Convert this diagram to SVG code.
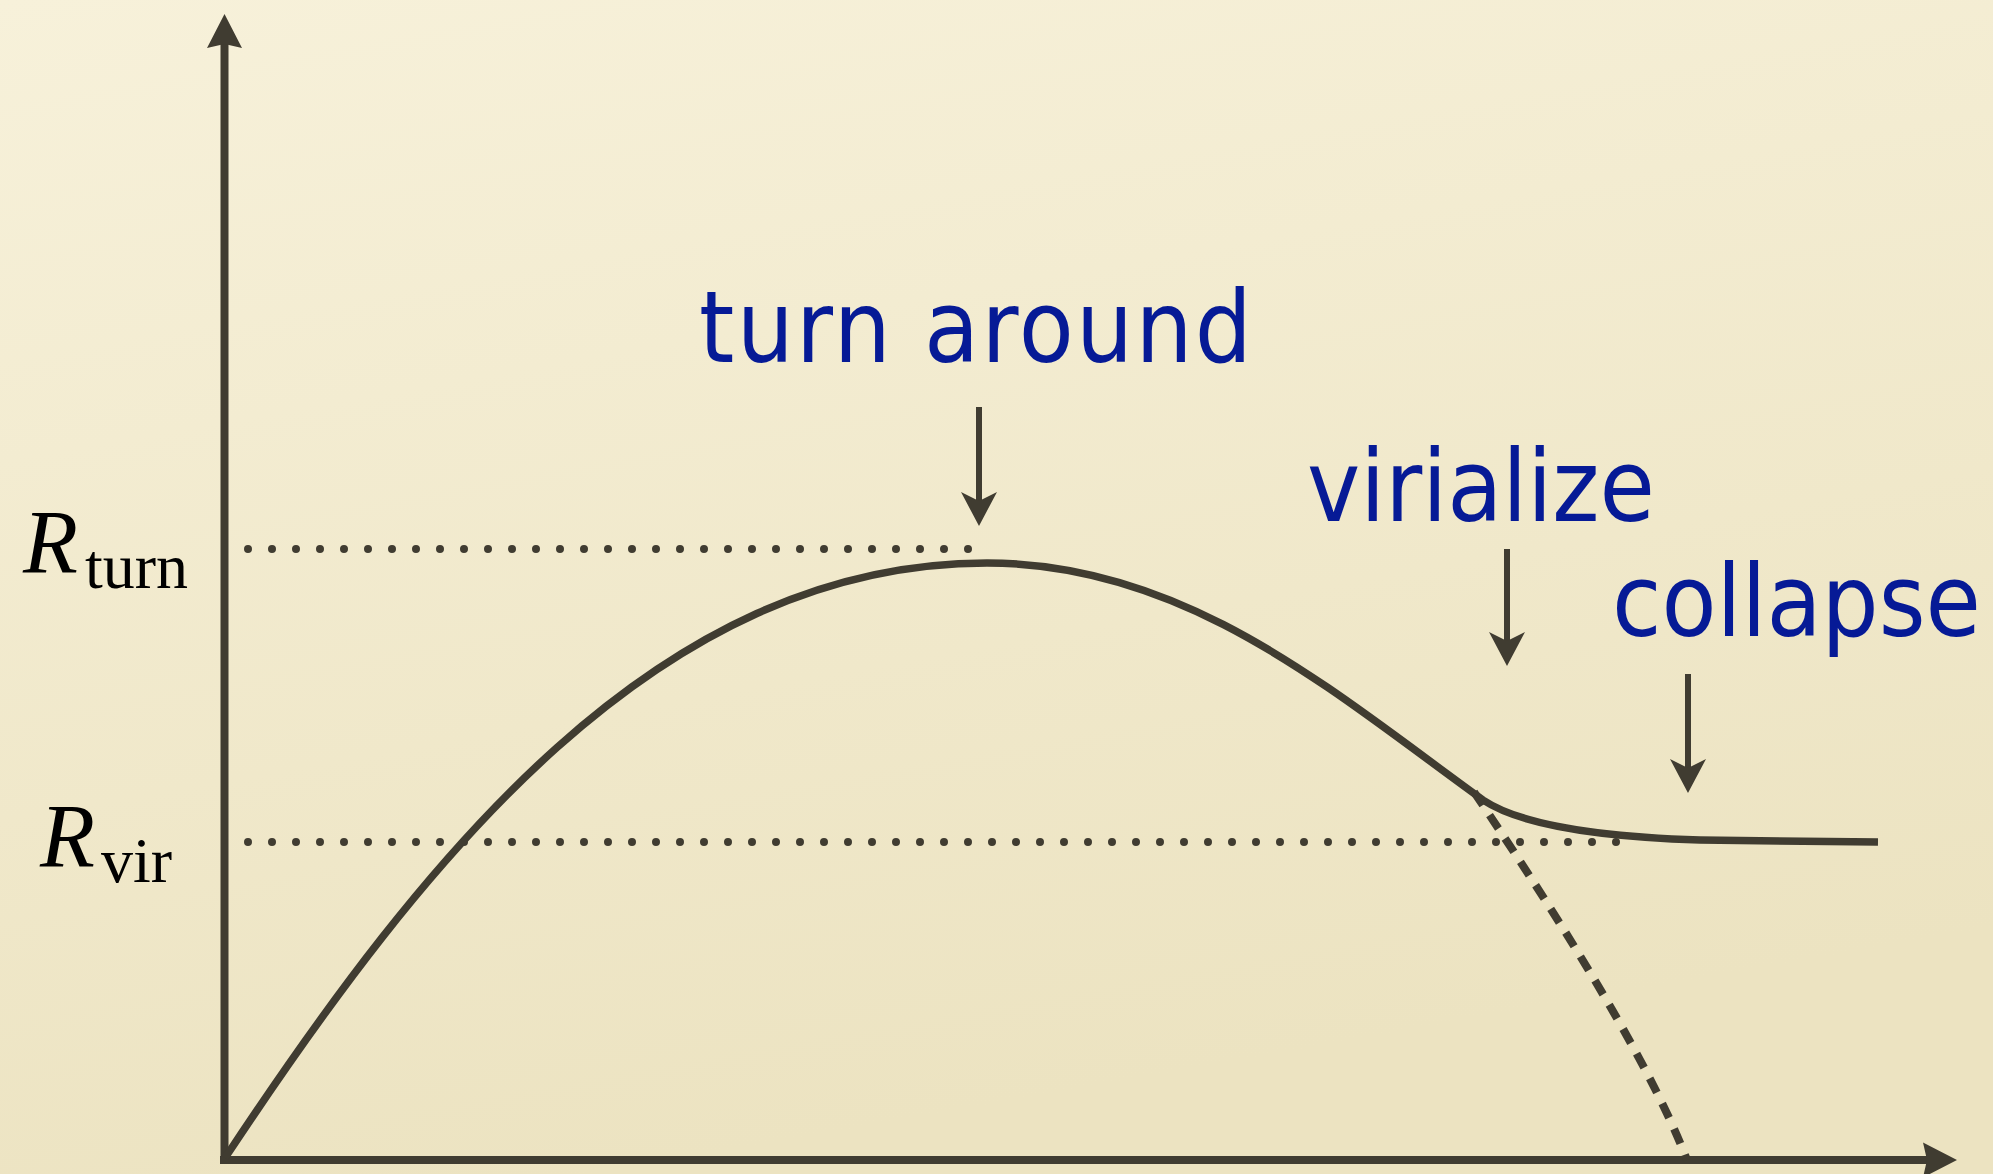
<svg xmlns="http://www.w3.org/2000/svg" width="1993" height="1174" viewBox="0 0 1993 1174">
<defs>
<linearGradient id="bg" x1="0" y1="0" x2="0.3" y2="1">
<stop offset="0" stop-color="#f7f1da"/>
<stop offset="1" stop-color="#ece3c1"/>
</linearGradient>
<marker id="axisHead" markerUnits="userSpaceOnUse" viewBox="-10 -20 40 40" refX="0" refY="0" markerWidth="40" markerHeight="40" orient="auto">
<path d="M26,0 L-8,-17.5 L-4,0 L-8,17.5 Z" fill="#403c31"/>
</marker>
<marker id="smallHead" markerUnits="userSpaceOnUse" viewBox="-16 -20 40 40" refX="0" refY="0" markerWidth="40" markerHeight="40" orient="auto">
<path d="M21,0 L-13,-18 L-4,0 L-13,18 Z" fill="#403c31"/>
</marker>
<style>
.axis{stroke:#403c31;stroke-width:8;fill:none}
.curve{stroke:#403c31;stroke-width:7.5;fill:none;stroke-linejoin:round}
.dash{stroke:#403c31;stroke-width:8;fill:none;stroke-dasharray:16 12}
.dots{stroke:#403c31;stroke-width:8;fill:none;stroke-dasharray:0 24;stroke-linecap:round}
.ptr{stroke:#403c31;stroke-width:6;fill:none}
.lbl{font-family:"DejaVu Sans Condensed","DejaVu Sans",sans-serif;font-stretch:condensed;font-size:100px;fill:#061a96}
.R{font-family:"Liberation Serif","Times New Roman",serif;font-style:italic;font-size:90px;fill:#000}
.sub{font-family:"Liberation Serif","Times New Roman",serif;font-size:64px;fill:#000}
</style>
</defs>
<rect width="1993" height="1174" fill="url(#bg)"/>
<g id="connectors">
<line class="axis" x1="224.5" y1="1164" x2="224.5" y2="40" marker-end="url(#axisHead)"/>
<line class="axis" x1="220" y1="1160" x2="1931" y2="1160" marker-end="url(#axisHead)"/>
<line class="dots" x1="248" y1="549" x2="971" y2="549"/>
<line class="dots" x1="248" y1="842" x2="1619" y2="842"/>
<path class="curve" d="M225,1158 C425,856 657,563 987,563 C1187,563 1333,692 1483,800 C1510,818 1570,836 1700,840 L1878,842"/>
<path class="dash" d="M1474,792 C1540,890 1645,1050 1687,1160"/>
<line class="ptr" x1="979" y1="407" x2="979" y2="505" marker-end="url(#smallHead)"/>
<line class="ptr" x1="1507" y1="549" x2="1507" y2="645" marker-end="url(#smallHead)"/>
<line class="ptr" x1="1688" y1="674" x2="1688" y2="772" marker-end="url(#smallHead)"/>
</g>
<g id="label-rturn">
<text class="R" x="23" y="573">R</text>
<text class="sub" x="85" y="588">turn</text>
</g>
<g id="label-rvir">
<text class="R" x="40" y="867">R</text>
<text class="sub" x="101" y="882">vir</text>
</g>
<g id="turn-around">
<text class="lbl" x="699" y="362" textLength="553">turn around</text>
</g>
<g id="virialize">
<text class="lbl" x="1307" y="521">virialize</text>
</g>
<g id="collapse">
<text class="lbl" x="1612" y="636">collapse</text>
</g>
</svg>
